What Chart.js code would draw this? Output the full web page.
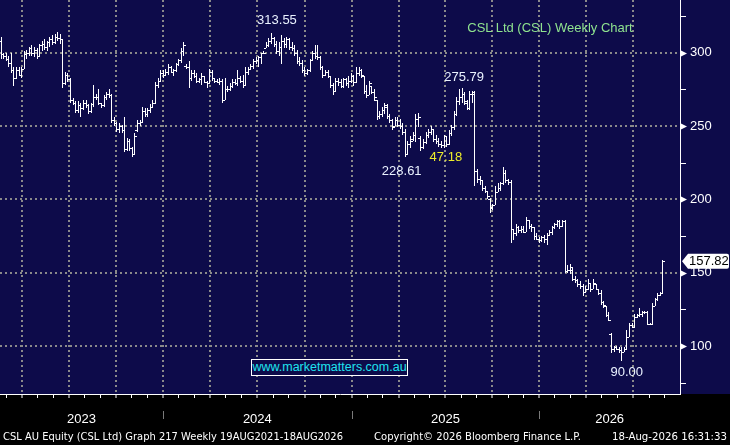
<!DOCTYPE html>
<html>
<head>
<meta charset="utf-8">
<title>CSL Ltd (CSL) Weekly Chart</title>
<script src="https://cdn.jsdelivr.net/npm/chart.js@4.4.1/dist/chart.umd.min.js"></script>
<style>
  html, body { margin: 0; padding: 0; background: #000; }
  #wrap { position: relative; width: 730px; height: 445px; overflow: hidden; }
  #chart { position: absolute; left: 0; top: 0; }
  .lbl { position: absolute; white-space: nowrap; font-family: "Liberation Sans", Arial, sans-serif; }
  #title { left: 450px; top: 19.5px; width: 200px; text-align: center; font-size: 13px; line-height: 15px; color: #8fe38f; }
  #site { left: 251px; top: 359px; width: 157px; height: 17px; box-sizing: border-box; border: 1px solid #fff;
          background: #0d0b4a; color: #1fe3ef; font-size: 12.5px; line-height: 15px; text-align: center; }
  .foot { top: 430px; font-family: "DejaVu Sans", sans-serif; font-size: 11px; line-height: 13px; color: #fff; transform-origin: 0 0; }
</style>
</head>
<body>
<div id="wrap">
  <canvas id="chart" width="730" height="445"></canvas>
  <div id="title" class="lbl">CSL Ltd (CSL) Weekly Chart</div>
  <div id="site" class="lbl">www.marketmatters.com.au</div>
  <div class="lbl foot" style="left:3px" data-w="340">CSL AU Equity (CSL Ltd) Graph 217 Weekly 19AUG2021-18AUG2026</div>
  <div class="lbl foot" style="left:374px" data-w="207">Copyright© 2026 Bloomberg Finance L.P.</div>
  <div class="lbl foot" style="left:612px" data-w="115">18-Aug-2026 16:31:33</div>
</div>
<script>
// weekly bars, oldest first
const opens = [
  308,299,298,296,293,288,283,288,285,289, 299,300,303,300,302,298,305,306,304,307,
  309,307,311,310,309,279,285,282,268,266, 261,264,262,266,264,260,265,270,270,266,
  264,270,272,271,254,252,248,250,247,234, 240,235,231,247,252,253,260,258,261,263,
  266,278,281,286,285,287,290,287,288,292, 295,301,291,290,283,286,284,281,282,284,
  280,279,287,283,281,280,281,268,275,275, 277,280,279,283,281,278,287,289,291,294,
  295,297,300,303,305,308,310,306,301,304, 308,306,309,304,303,300,294,293,288,286,
  288,295,300,298,297,290,285,287,284,278, 274,281,280,277,282,279,281,284,280,286,
  288,284,274,271,277,273,268,257,258,261, 263,257,254,250,254,251,250,246,231,238,
  241,244,255,242,236,239,244,246,248,241, 240,238,237,243,238,245,249,258,267,270,
  272,266,262,272,272,219,214,213,208,206, 200,194,196,205,208,211,218,213,212,180,
  177,181,179,180,178,186,182,181,175,173, 172,174,173,176,178,181,183,185,182,185,
  151,152,152,146,145,142,141,137,139,143, 139,142,139,136,130,127,121,108,98,99,
  98,97,96,98,106,114,113,120,121,122, 123,123,115,115,127,132,135,136
];
const highs = [
  311,300,300,298,300,290,290,290,290,301, 302,304,305,304,303,306,308,309,308,311,
  312,313,314,313,309,287,286,283,269,267, 267,266,268,268,265,266,278,272,275,266,
  271,273,275,272,256,253,252,251,256,242, 241,236,245,254,254,263,262,262,265,268,
  280,283,288,288,289,292,291,289,293,296, 303,307.5,292,294,288,288,286,283,286,284,
  281,289,288,283,282,283,282,283,277,279, 282,282,288,284,285,290,290,292,296,297,
  298,300,301,307,310,313.55,311,308,307,312, 310,311,310,307,305,302,297,295,290,289,
  296,301,305,305,298,291,288,288,284,279, 283,283,282,283,283,284,286,285,290,290,
  289,284,278,281,277,275,268,260,263,266, 265,258,255,256,256,255,252,248,240,243,
  246,258,259,243,241,246,248,250,248,244, 242,240,244,243,247,251,260,270,275,275.79,
  273,268,274,274,274,221,216,213,209,206, 201,197,209,211,212,222,220,214,213,180,
  183,182,182,182,188,186,183,181,177,174, 175,176,177,179,182,184,186,186,186,186,
  155,156,153,148,146,144,142,141,146,143, 146,142,139,138,131,127,123,109,100,100,
  99,99,99,111,116,116,122,122,126,124, 124,124,116,129,133,136,137,158.6
];
const lows = [
  296,296,294,290,286,277,282,284,283,289, 296,298,298,297,296,297,301,302,301,304,
  305,306,308,306,276,278,280,266,264,259, 259,256,261,262,258,259,263,268,264,262,
  263,268,269,252,250,246,245,245,232,233, 233,229,230,246,250,252,256,256,259,262,
  265,276,280,283,284,285,286,284,287,291, 293,298,289,276,281,283,279,279,278,279,
  276,279,281,279,279,278,266,268,273,274, 276,278,277,279,276,278,285,288,289,292,
  290,292,299,303,304,306,304,299,298,292, 303,303,302,301,298,292,291,286,284,285,
  287,294,296,295,288,283,284,283,276,271, 273,277,276,276,277,276,279,277,279,284,
  283,272,269,271,272,267,254,255,256,258, 255,252,247,250,249,248,244,228.61,231,235,
  240,239,249,233,234,238,242,244,239,238, 236,235,235,236,237,243,247,257,264,266,
  264,261,261,266,209,211,210,206,204,200, 191,193,196,205,206,210,211,210,170,172,
  175,177,177,177,178,180,178,172,172,170, 171,170,169,175,176,180,181,180,181,150,
  150,149,144,143,140,139,134,136,138,137, 139,138,135,128,126,120,117,95,96,97,
  95,90,96,98,106,112,112,119,120,120, 122,114,114,115,127,131,134,136
];
const closes = [
  299,298,296,293,288,283,288,285,289,299, 300,303,300,302,298,305,306,304,307,309,
  307,311,310,309,279,285,282,268,266,261, 264,262,266,264,260,265,270,270,266,264,
  270,272,271,254,252,248,250,247,234,240, 235,231,243,252,253,260,258,261,263,266,
  278,281,286,285,287,290,287,288,292,295, 301,305,290,283,286,284,281,282,284,280,
  279,287,283,281,280,281,268,275,275,277, 280,279,283,281,278,287,289,291,294,295,
  297,300,300,305,308,310,306,301,304,308, 306,309,304,303,300,294,293,288,286,288,
  295,300,298,297,290,285,287,284,278,274, 281,280,277,282,279,281,284,280,286,288,
  285,274,271,279,273,270,257,258,261,264, 257,254,249,254,251,250,246,231,238,240,
  244,255,256,236,239,244,246,248,241,240, 238,237,243,238,245,249,258,267,270,272,
  267,262,272,273,219,214,213,208,206,202, 195,196,205,208,211,218,213,212,180,177,
  181,179,180,178,186,182,181,175,173,172, 174,173,176,178,181,183,185,182,185,151,
  152,154,146,145,142,141,137,139,143,139, 143,139,136,130,128,121,118,98,99,98,
  97,96,98,106,114,113,120,121,122,123, 123,115,115,127,132,135,136,157.82
];

const yearLabels = ['2023', '2024', '2025', '2026'];
const yearStarts = [-10.15, 62.89, 136.14, 208.97, 282.0];   // week index where each axis year begins
const priceTicks = [100, 150, 200, 250, 300];
const minorPriceTicks = [75, 125, 175, 225, 275, 325];

const markWeeks = [105, 179, 157, 241];
const markPrices = [313.55, 275.79, 228.61, 90.00];
const noteText = '47.18';

const xMin = -0.39, xMax = 263.6;
const yMin = 67.27, yMax = 335.9;

const NAVY = '#0d0b4a';
const GRID = '#8a8a8a';

function monthTicks() {
  const out = [];
  for (let y = 0; y < yearStarts.length - 1; y++) {
    const step = (yearStarts[y + 1] - yearStarts[y]) / 12;
    for (let m = 0; m < 12; m++) {
      const v = yearStarts[y] + m * step;
      if (v > xMin && v < xMax) out.push({ value: v, quarter: m % 3 === 0 });
    }
  }
  return out;
}

function yearCentres() {
  return yearLabels.map((_, i) => (Math.max(yearStarts[i], xMin) + Math.min(yearStarts[i + 1], xMax)) / 2);
}

const background = {
  id: 'background',
  beforeDraw(chart) {
    const { ctx, width, height, chartArea } = chart;
    ctx.save();
    ctx.fillStyle = '#000';
    ctx.fillRect(0, 0, width, height);
    ctx.fillStyle = NAVY;
    ctx.fillRect(0, 0, width, chartArea.bottom);
    ctx.restore();
  }
};

// keep the 1px high-low bars on whole pixels
const snapBars = {
  id: 'snapBars',
  beforeDatasetsDraw(chart) {
    chart.getDatasetMeta(0).data.forEach(el => {
      el.x = Math.floor(el.x) + 0.5;
      el.y = Math.round(el.y);
      el.base = Math.round(el.base);
    });
  }
};

// open tick on the left, close tick on the right
const ohlcTicks = {
  id: 'ohlcTicks',
  afterDatasetsDraw(chart) {
    const { ctx, scales: { y } } = chart;
    ctx.save();
    ctx.fillStyle = '#fff';
    chart.getDatasetMeta(0).data.forEach((el, i) => {
      const px = Math.floor(el.x);
      ctx.fillRect(px - 2, Math.round(y.getPixelForValue(opens[i])), 2, 1);
      ctx.fillRect(px + 1, Math.round(y.getPixelForValue(closes[i])), 2, 1);
    });
    ctx.restore();
  }
};

const decorations = {
  id: 'decorations',
  afterDraw(chart) {
    const { ctx, chartArea, scales: { x, y } } = chart;
    const axisX = chartArea.right;
    ctx.save();

    ctx.fillStyle = '#fff';
    priceTicks.forEach(v => {
      const py = Math.round(y.getPixelForValue(v)) + 0.5;
      ctx.beginPath();
      ctx.moveTo(axisX + 1, py - 3);
      ctx.lineTo(axisX + 7, py);
      ctx.lineTo(axisX + 1, py + 3);
      ctx.closePath();
      ctx.fill();
    });
    minorPriceTicks.forEach(v => {
      ctx.fillRect(axisX + 1, Math.round(y.getPixelForValue(v)), 5, 1);
    });

    ctx.fillStyle = '#7a7a7a';
    yearStarts.forEach(v => {
      if (v <= xMin || v >= xMax) return;
      ctx.fillRect(Math.round(x.getPixelForValue(v)), 411, 1, 8);
    });

    ctx.font = "13px 'Liberation Sans', Arial, sans-serif";
    ctx.textAlign = 'center';
    ctx.textBaseline = 'middle';
    ctx.fillStyle = '#eaf2ff';
    const offsets = [[5.5, -12.5], [2, -11], [-3.7, 13.6], [5, 11.5]];
    markWeeks.forEach((w, i) => {
      ctx.fillText(markPrices[i].toFixed(2),
        x.getPixelForValue(w) + offsets[i][0],
        y.getPixelForValue(markPrices[i]) + offsets[i][1]);
    });
    ctx.fillStyle = '#ecec2a';
    ctx.fillText(noteText, x.getPixelForValue(172.7), y.getPixelForValue(228.3));

    // last price flag
    const last = closes[closes.length - 1];
    const cy = y.getPixelForValue(last);
    ctx.fillStyle = '#fff';
    ctx.beginPath();
    ctx.moveTo(axisX + 2, cy);
    ctx.lineTo(axisX + 8, cy - 7.5);
    ctx.lineTo(727, cy - 7.5);
    ctx.quadraticCurveTo(729, cy - 7.5, 729, cy - 5.5);
    ctx.lineTo(729, cy + 5.5);
    ctx.quadraticCurveTo(729, cy + 7.5, 727, cy + 7.5);
    ctx.lineTo(axisX + 8, cy + 7.5);
    ctx.closePath();
    ctx.fill();
    ctx.fillStyle = '#000';
    ctx.textAlign = 'left';
    ctx.fillText(last.toFixed(2), axisX + 9, cy + 0.5);

    ctx.restore();
  }
};

Chart.defaults.font.family = "'Liberation Sans', Arial, sans-serif";

new Chart(document.getElementById('chart'), {
  type: 'bar',
  data: {
    datasets: [{
      label: 'CSL',
      data: highs.map((h, i) => ({ x: i, y: [lows[i], h] })),
      xAxisID: 'x',
      yAxisID: 'y',
      backgroundColor: '#fff',
      borderWidth: 0,
      barThickness: 1,
      inflateAmount: 0
    }]
  },
  options: {
    responsive: false,
    animation: false,
    devicePixelRatio: 1,
    events: [],
    layout: { padding: 0 },
    plugins: { legend: { display: false }, tooltip: { enabled: false } },
    scales: {
      x: {
        type: 'linear', position: 'bottom', min: xMin, max: xMax, bounds: 'data', offset: false, weight: 0,
        afterBuildTicks: s => { s.ticks = monthTicks(); },
        afterFit: s => { s.height = 6; s.paddingLeft = 0; s.paddingRight = 0; },
        ticks: { display: false },
        grid: {
          offset: false,
          color: c => (c.tick && c.tick.quarter) ? GRID : 'rgba(0,0,0,0)',
          lineWidth: c => (c.tick && c.tick.quarter) ? 2 : 1,
          drawTicks: true, tickLength: 4, tickColor: '#fff', tickWidth: 1
        },
        border: { color: '#fff', width: 1, dash: [2, 3] }
      },
      xYear: {
        type: 'linear', position: 'bottom', min: xMin, max: xMax, bounds: 'data', offset: false, weight: 1,
        afterBuildTicks: s => { s.ticks = yearCentres().map(v => ({ value: v })); },
        afterFit: s => { s.height = 45; s.paddingLeft = 0; s.paddingRight = 0; },
        ticks: {
          autoSkip: false, maxRotation: 0, padding: 12, color: '#fff',
          font: { size: 13 },
          callback: (v, i) => yearLabels[i]
        },
        grid: { display: false, drawTicks: false, offset: false },
        border: { display: false }
      },
      y: {
        type: 'linear', position: 'right', min: yMin, max: yMax, bounds: 'data',
        afterBuildTicks: s => { s.ticks = priceTicks.map(v => ({ value: v })); },
        afterFit: s => { s.width = 50; s.paddingTop = 0; s.paddingBottom = 0; },
        ticks: { padding: 10, color: '#fff', font: { size: 13 } },
        grid: { color: GRID, lineWidth: 2, drawTicks: false },
        border: { color: '#fff', width: 1, dash: [2, 3] }
      }
    }
  },
  plugins: [background, snapBars, ohlcTicks, decorations]
});

// squeeze footer lines to the width they take in the terminal print
document.querySelectorAll('.foot').forEach(el => {
  const w = el.getBoundingClientRect().width;
  el.style.transform = 'scaleX(' + (Number(el.dataset.w) / w) + ')';
});
</script>
</body>
</html>
